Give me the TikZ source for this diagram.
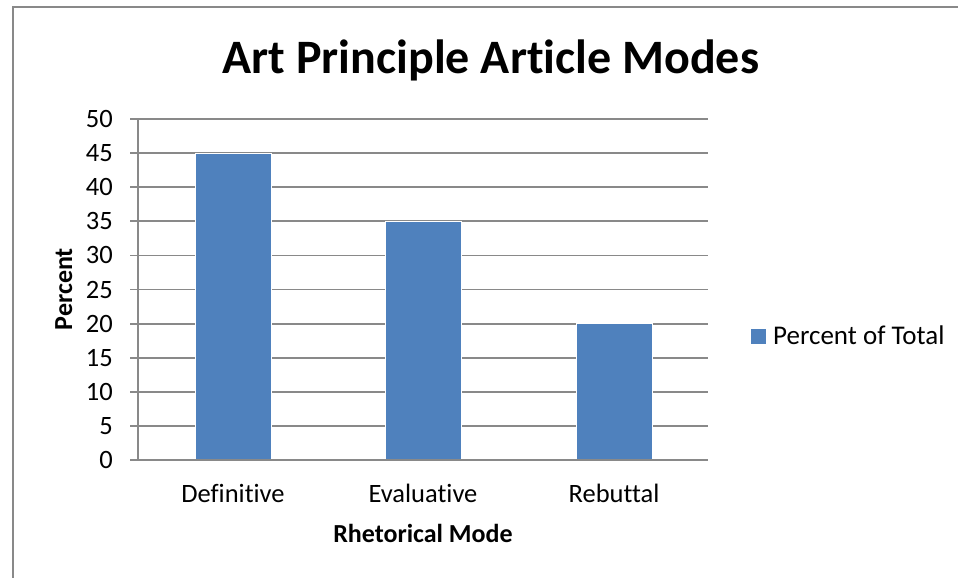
\documentclass[tikz,border=0pt]{standalone}
\usepackage{fontspec}
\setmainfont{Carlito}[RawFeature={-liga;-clig;-calt;-dlig}]
\definecolor{barblue}{HTML}{4F81BD}
\definecolor{gridgray}{HTML}{898989}
\begin{document}
\begin{tikzpicture}[x=1pt,y=-1pt,
  grid/.style={draw=gridgray,line width=1.8pt},
  bar/.style={fill=barblue,draw=white,line width=0.6pt},
  ticklab/.style={inner sep=0pt,anchor=east,font=\fontsize{26.5}{30}\selectfont},
  catlab/.style={inner sep=0pt,anchor=base,font=\fontsize{26.5}{30}\selectfont},
  axtitle/.style={inner sep=0pt,anchor=base,font=\fontsize{26}{30}\selectfont\bfseries}]
\useasboundingbox (0,0) rectangle (958,578);
\fill[white] (0,0) rectangle (958,578);
% outer frame
\draw[draw=gridgray,line width=2pt] (12.5,600) -- (12.5,7.5) -- (970,7.5);
% gridlines and y labels
\foreach \v in {5,10,...,50}{
  \draw[grid] (130,{460-6.82*\v}) -- (708,{460-6.82*\v});
}
\foreach \v in {0,5,...,50}{
  \node[ticklab] (t\v) at (113,{460-6.82*\v}) {\v};
}
% bars
\draw[bar] (195,460) rectangle (271,{460-6.82*45});
\draw[bar] (385,460) rectangle (461,{460-6.82*35});
\draw[bar] (576,460) rectangle (652,{460-6.82*20});
% axes
\draw[grid] (138,119) -- (138,460);
\draw[grid,line width=2.4pt] (130,460) -- (708,460);
% category labels
\node[catlab] (c1) at (233,502) {Definitive};
\node[catlab] (c2) at (423,502) {Evaluative};
\node[catlab] (c3) at (614,502) {Rebuttal};
% titles
\node[inner sep=0pt,anchor=base,font=\fontsize{48}{54}\selectfont\bfseries] (title) at (491,74) {Art Principle Article Modes};
\node[axtitle,rotate=90] (ytitle) at (72,289) {Percent};
\node[axtitle] (xtitle) at (423,542) {Rhetorical Mode};
% legend
\fill[barblue] (751,329) rectangle (766,344);
\node[catlab,anchor=base west,font=\fontsize{27}{30}\selectfont] (leg) at (773,344) {Percent of Total};
\end{tikzpicture}
\end{document}
